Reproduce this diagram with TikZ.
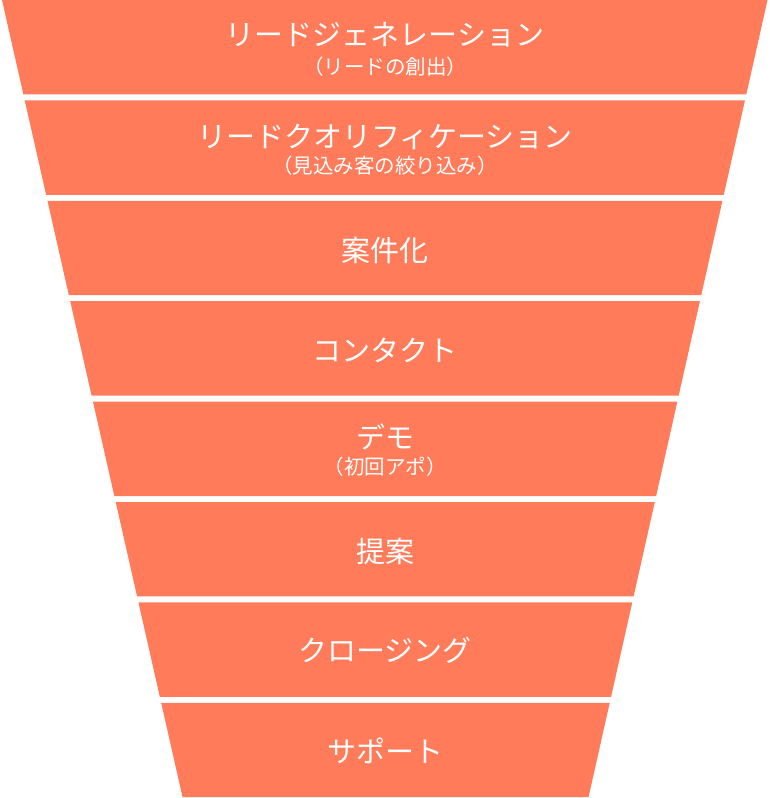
\documentclass[tikz,border=0pt]{standalone}
\usepackage{fontspec}
\setmainfont{Noto Sans CJK JP}
\usepackage{xcolor}
\definecolor{funnelred}{RGB}{255,123,90}

\begin{document}
\begin{tikzpicture}[x=1pt,y=-1pt,
  stage/.style={text=white,font=\fontsize{29}{31}\selectfont,inner sep=0pt},
  stagenote/.style={text=white,font=\fontsize{20.5}{22}\selectfont,inner sep=0pt}]
\useasboundingbox (0,0) rectangle (769,798);
\foreach \i in {0,...,7}{
  \pgfmathsetmacro\ta{100.4*\i}
  \pgfmathsetmacro\tb{100.4*\i+94.4}
  \fill[funnelred] ({2+0.2265*\ta},\ta) -- ({767.5-0.2245*\ta},\ta)
    -- ({767.5-0.2245*\tb},\tb) -- ({2+0.2265*\tb},\tb) -- cycle;
}
\node[stage] (leadgen) at (385,35) {リードジェネレーション};
\node[stagenote] (leadgennote) at (385,67) {（リードの創出）};
\node[stage] (leadqual) at (385,137) {リードクオリフィケーション};
\node[stagenote] (leadqualnote) at (385,166) {（見込み客の絞り込み）};
\node[stage] (anken) at (385,250) {案件化};
\node[stage] (contact) at (385,350) {コンタクト};
\node[stage] (demo) at (385,437) {デモ};
\node[stagenote] (demonote) at (385,467) {（初回アポ）};
\node[stage] (teian) at (385,551) {提案};
\node[stage] (closing) at (385,650) {クロージング};
\node[stage] (support) at (385,751) {サポート};
\end{tikzpicture}
\end{document}
